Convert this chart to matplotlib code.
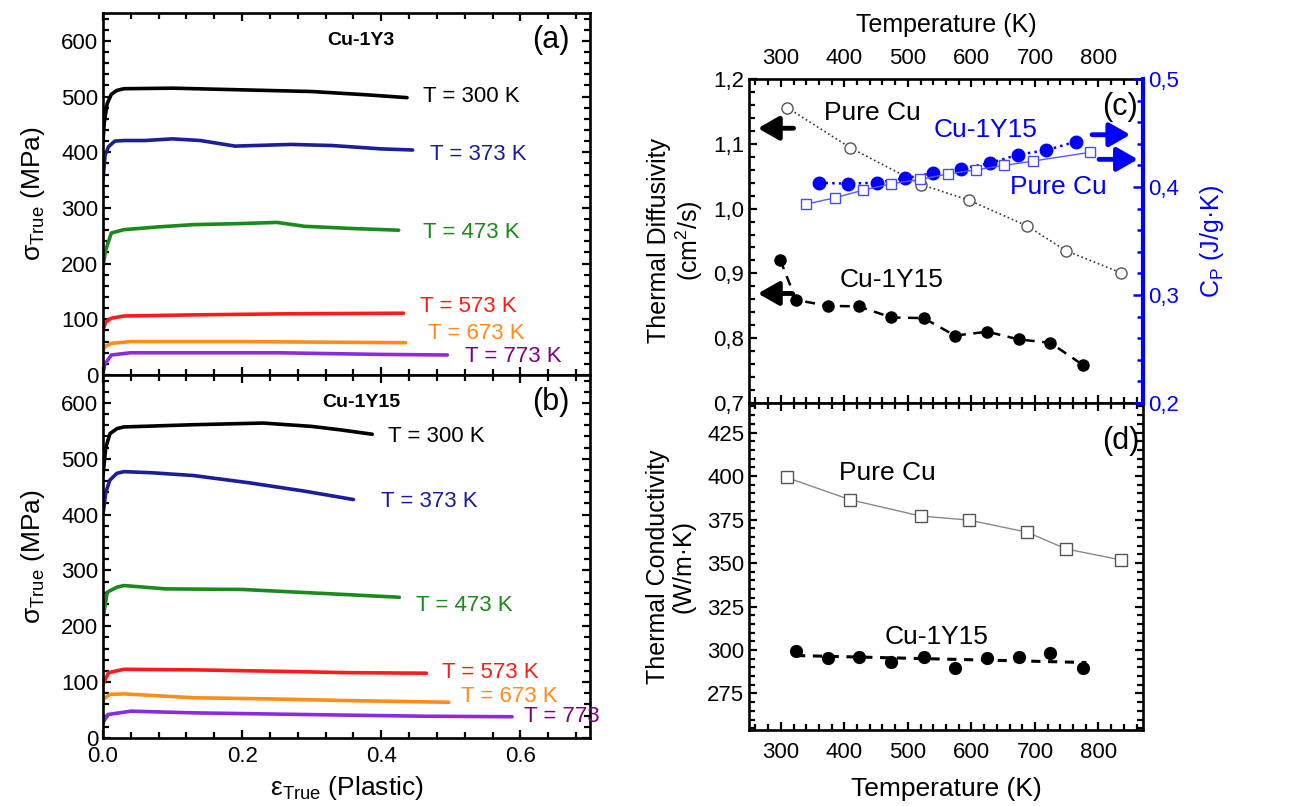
import numpy as np
import matplotlib.pyplot as plt
from matplotlib.ticker import MultipleLocator, FuncFormatter

plt.rcParams['font.family'] = ['Liberation Sans', 'DejaVu Sans']
plt.rcParams['mathtext.fontset'] = 'custom'
plt.rcParams['mathtext.rm'] = 'Liberation Sans'
plt.rcParams['mathtext.it'] = 'Liberation Sans:italic'
plt.rcParams['mathtext.default'] = 'regular'

# ---- stress-strain curves, Cu-1Y3 (panel a) ----
temps = ['300', '373', '473', '573', '673', '773']
colors = ['#000000', '#1c1c9c', '#1a8a1a', '#ff1a1a', '#ff8c1a', '#8a2be2']
text_colors = ['#000000', '#1c1c9c', '#1a8a1a', '#ff1a1a', '#ff8c1a', '#800080']

eps_a = [
    [0, 0.002, 0.006, 0.012, 0.02, 0.03, 0.1, 0.2, 0.3, 0.38, 0.437],
    [0, 0.003, 0.008, 0.017, 0.03, 0.06, 0.1, 0.14, 0.19, 0.27, 0.33, 0.4, 0.445],
    [0, 0.004, 0.012, 0.03, 0.08, 0.13, 0.2, 0.25, 0.29, 0.36, 0.425],
    [0, 0.004, 0.012, 0.03, 0.13, 0.27, 0.432],
    [0, 0.004, 0.012, 0.04, 0.2, 0.435],
    [0, 0.003, 0.012, 0.04, 0.25, 0.4, 0.495],
]
sig_a = [
    [420, 455, 487, 504, 511, 514, 515, 512, 509, 503, 498],
    [350, 395, 410, 420, 421, 421, 424, 421, 411, 414, 412, 406, 404],
    [195, 225, 255, 261, 266, 270, 272, 274, 267, 263, 260],
    [81, 95, 102, 106, 108, 110, 111],
    [45, 52, 57, 60, 60, 58],
    [3, 20, 36, 40, 40, 37, 36],
]

# ---- stress-strain curves, Cu-1Y15 (panel b) ----
eps_b = [
    [0, 0.004, 0.01, 0.02, 0.03, 0.13, 0.23, 0.3, 0.34, 0.387],
    [0, 0.004, 0.01, 0.02, 0.03, 0.07, 0.13, 0.21, 0.29, 0.36],
    [0, 0.006, 0.02, 0.03, 0.09, 0.2, 0.33, 0.426],
    [0, 0.008, 0.03, 0.13, 0.27, 0.35, 0.465],
    [0, 0.01, 0.03, 0.13, 0.24, 0.35, 0.497],
    [0, 0.007, 0.04, 0.13, 0.29, 0.46, 0.588],
]
sig_b = [
    [470, 520, 545, 554, 557, 561, 564, 558, 552, 544],
    [400, 440, 462, 474, 477, 475, 470, 457, 442, 427],
    [213, 261, 270, 273, 267, 266, 258, 252],
    [96, 117, 123, 122, 119, 117, 116],
    [69, 78, 79, 72, 70, 67, 64],
    [27, 42, 48, 45, 42, 39, 38],
]

labels_a = ['T = 300 K', 'T = 373 K', 'T = 473 K', 'T = 573 K', 'T = 673 K', 'T = 773 K']
labels_b = ['T = 300 K', 'T = 373 K', 'T = 473 K', 'T = 573 K', 'T = 673 K', 'T = 773']
lab_pos_a = [(0.46, 500), (0.47, 396), (0.46, 255), (0.456, 123), (0.467, 75), (0.52, 33)]
lab_pos_b = [(0.41, 540), (0.40, 423), (0.45, 238), (0.487, 118), (0.515, 74), (0.605, 39)]

# ---- thermal diffusivity (panel c) ----
T_D_cu = [310, 409, 521, 596, 688, 749, 835]
D_cu = [1.156, 1.094, 1.037, 1.013, 0.973, 0.935, 0.901]
T_D_y15 = [299, 324, 374, 423, 474, 525, 574, 625, 675, 724, 775]
D_y15 = [0.921, 0.859, 0.850, 0.849, 0.832, 0.831, 0.804, 0.810, 0.798, 0.793, 0.759]

# ---- heat capacity (panel c, right axis) ----
T_cp_y15 = [360, 405, 451, 495, 540, 584, 629, 674, 718, 764]
cp_y15 = [0.404, 0.403, 0.404, 0.408, 0.413, 0.417, 0.422, 0.430, 0.434, 0.442]
T_cp_cu = [339, 385, 429, 474, 519, 563, 608, 652, 697, 786]
cp_cu = [0.384, 0.390, 0.397, 0.403, 0.407, 0.412, 0.416, 0.420, 0.424, 0.432]

# ---- thermal conductivity (panel d) ----
T_k_cu = [309, 409, 520, 596, 688, 749, 835]
k_cu = [399.2, 386.4, 377.0, 374.7, 367.7, 358.1, 351.8]
T_k_y15 = [324, 374, 423, 474, 525, 574, 625, 675, 724, 775]
k_y15 = [299.5, 295.5, 296.0, 293.0, 296.0, 289.5, 295.5, 295.8, 298.0, 289.5]

fig = plt.figure(figsize=(12.89, 8.06), dpi=100)

spine_w = 1.9
tick_fs = 16


def style(ax):
    for s in ax.spines.values():
        s.set_linewidth(spine_w)
    ax.tick_params(which='both', direction='in', top=True, right=True,
                   labelsize=tick_fs, width=1.6)
    ax.tick_params(which='major', length=6)
    ax.tick_params(which='minor', length=4)


comma = FuncFormatter(lambda v, p: f"{v:.1f}".replace('.', ','))

# left panels
ax_a = fig.add_axes([0.0799, 0.5347, 0.3778, 0.4492])
ax_b = fig.add_axes([0.0799, 0.0844, 0.3778, 0.4503])

for ax, eps, sig, labs, pos, title, tag in [
        (ax_a, eps_a, sig_a, labels_a, lab_pos_a, 'Cu-1Y3', '(a)'),
        (ax_b, eps_b, sig_b, labels_b, lab_pos_b, 'Cu-1Y15', '(b)')]:
    for i in range(len(temps)):
        ax.plot(eps[i], sig[i], color=colors[i], lw=2.6, solid_capstyle='round')
        ax.text(pos[i][0], pos[i][1], labs[i], color=text_colors[i], fontsize=16,
                va='center', ha='left', clip_on=False)
    ax.set_xlim(0, 0.7)
    ax.set_ylim(0, 650)
    ax.xaxis.set_major_locator(MultipleLocator(0.2))
    ax.xaxis.set_minor_locator(MultipleLocator(0.04))
    ax.yaxis.set_major_locator(MultipleLocator(100))
    ax.yaxis.set_minor_locator(MultipleLocator(20))
    style(ax)
    ax.set_ylabel('σ$_{True}$ (MPa)', fontsize=19, labelpad=10)
    ax.text(0.53, 0.925, title, transform=ax.transAxes, fontsize=14,
            fontweight='bold', ha='center', va='center')
    ax.text(0.92, 0.925, tag, transform=ax.transAxes, fontsize=22,
            ha='center', va='center')

ax_a.tick_params(labelbottom=False)
ax_b.tick_params(axis='x', pad=6)
ax_b.xaxis.set_major_formatter(FuncFormatter(lambda v, p: f"{v:.1f}"))
ax_b.set_xlabel('ε$_{True}$ (Plastic)', fontsize=19, labelpad=5)

# right panels
ax_c = fig.add_axes([0.5811, 0.5, 0.3056, 0.402])
ax_d = fig.add_axes([0.5811, 0.0943, 0.3056, 0.4057])

ax_c.plot(T_D_cu, D_cu, ls=':', color='#333333', lw=1.2, marker='o', ms=8,
          mfc='white', mec='#555555', mew=1.0)
ax_c.plot(T_D_y15, D_y15, ls='--', color='black', lw=1.8, marker='o', ms=8,
          mfc='black', mec='black', dashes=(4, 3))
ax_c.set_xlim(250, 870)
ax_c.set_ylim(0.7, 1.2)
ax_c.xaxis.set_major_locator(MultipleLocator(100))
ax_c.xaxis.set_minor_locator(MultipleLocator(20))
ax_c.yaxis.set_major_locator(MultipleLocator(0.1))
ax_c.yaxis.set_minor_locator(MultipleLocator(0.02))
ax_c.yaxis.set_major_formatter(comma)
style(ax_c)
ax_c.tick_params(which='both', right=False, labeltop=True, labelbottom=False)
ax_c.tick_params(axis='x', pad=7)
ax_c.xaxis.set_label_position('top')
ax_c.set_xlabel('Temperature (K)', fontsize=18, labelpad=12)
ax_c.set_ylabel('Thermal Diffusivity\n(cm$^2$/s)', fontsize=18, labelpad=6,
                linespacing=1.1)

ax_cp = ax_c.twinx()
ax_cp.plot(T_cp_y15, cp_y15, ls=':', color='#0000ff', lw=1.8, marker='o', ms=9,
           mfc='#0000ff', mec='#0000ff')
ax_cp.plot(T_cp_cu, cp_cu, ls='-', color='#5a5aff', lw=1.0, marker='s', ms=7.5,
           mfc='white', mec='#4a4aff', mew=1.0)
ax_cp.set_ylim(0.2, 0.5)
ax_cp.yaxis.set_major_locator(MultipleLocator(0.1))
ax_cp.yaxis.set_minor_locator(MultipleLocator(0.02))
ax_cp.yaxis.set_major_formatter(comma)
for s in ax_cp.spines.values():
    s.set_visible(False)
ax_cp.spines['right'].set_visible(True)
ax_cp.spines['right'].set_color('#0000ff')
ax_cp.spines['right'].set_linewidth(3)
ax_cp.tick_params(which='both', direction='in', colors='#0000ff',
                  labelsize=tick_fs, width=1.8)
ax_cp.tick_params(which='major', length=7)
ax_cp.tick_params(which='minor', length=4)
ax_cp.set_ylabel('C$_P$ (J/g·K)', fontsize=18, color='#0000ff', labelpad=14)

ax_c.text(368, 1.147, 'Pure Cu', fontsize=19, va='center')
ax_c.text(540, 1.121, 'Cu-1Y15', fontsize=19, va='center', color='#0000ff')
ax_c.text(661, 1.033, 'Pure Cu', fontsize=19, va='center', color='#0000ff')
ax_c.text(392, 0.890, 'Cu-1Y15', fontsize=19, va='center')
ax_c.text(806, 1.157, '(c)', fontsize=22, va='center')

arrow_k = dict(arrowstyle='-|>,head_length=0.7,head_width=0.4', lw=3.5,
               color='black', mutation_scale=18, shrinkA=0, shrinkB=0)
arrow_b = dict(arrowstyle='-|>,head_length=0.7,head_width=0.4', lw=3.5,
               color='#0000ff', mutation_scale=18, shrinkA=0, shrinkB=0)
ax_c.annotate('', xy=(264, 1.124), xytext=(320, 1.124), arrowprops=arrow_k)
ax_c.annotate('', xy=(264, 0.869), xytext=(318, 0.869), arrowprops=arrow_k)
ax_c.annotate('', xy=(850, 1.114), xytext=(790, 1.114), arrowprops=arrow_b,
              annotation_clip=False)
ax_c.annotate('', xy=(862, 1.076), xytext=(801, 1.076), arrowprops=arrow_b,
              annotation_clip=False)

# panel d
ax_d.plot(T_k_cu, k_cu, ls='-', color='#888888', lw=1.0, marker='s', ms=8,
          mfc='white', mec='#555555', mew=1.0)
ax_d.plot(T_k_y15, k_y15, ls='none', marker='o', ms=8.5, mfc='black', mec='black')
fit = np.polyfit(T_k_y15, k_y15, 1)
T_fit = np.array([T_k_y15[0], T_k_y15[-1] + 6])
ax_d.plot(T_fit, np.polyval(fit, T_fit), ls='--', color='black', lw=2.2, dashes=(3, 2.5))
ax_d.set_xlim(250, 870)
ax_d.set_ylim(254, 442)
ax_d.xaxis.set_major_locator(MultipleLocator(100))
ax_d.xaxis.set_minor_locator(MultipleLocator(20))
ax_d.yaxis.set_major_locator(MultipleLocator(25))
ax_d.yaxis.set_minor_locator(MultipleLocator(5))
style(ax_d)
ax_d.tick_params(axis='x', pad=9)
ax_d.set_xlabel('Temperature (K)', fontsize=19, labelpad=10)
ax_d.set_ylabel('Thermal Conductivity\n(W/m·K)', fontsize=18, labelpad=8,
                linespacing=1.1)
ax_d.text(392, 402, 'Pure Cu', fontsize=19, va='center')
ax_d.text(464, 307.5, 'Cu-1Y15', fontsize=19, va='center')
ax_d.text(806, 420, '(d)', fontsize=22, va='center')

fig.savefig('out.png', dpi=100)
